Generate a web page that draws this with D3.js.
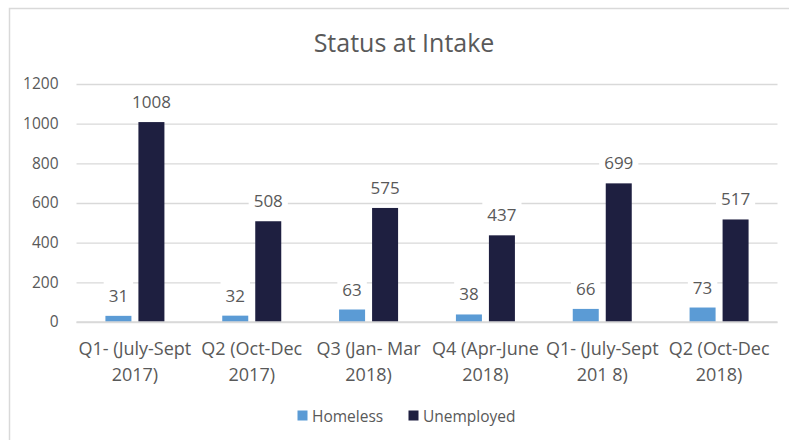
<!DOCTYPE html>
<html lang="en">
<head>
<meta charset="utf-8">
<title>Status at Intake</title>
<script src="https://d3js.org/d3.v7.min.js"></script>
<style>
  body { margin: 0; background: #fff; }
  text { font-family: "Open Sans", sans-serif; fill: #595959; }
</style>
</head>
<body>
<script>
// data
var quarters = [
  ["Q1- (July-Sept", "2017)"],
  ["Q2 (Oct-Dec", "2017)"],
  ["Q3 (Jan- Mar", "2018)"],
  ["Q4 (Apr-June", "2018)"],
  ["Q1- (July-Sept", "201 8)"],
  ["Q2 (Oct-Dec", "2018)"]
];
var seriesNames = ["Homeless", "Unemployed"];
var homeless = [31, 32, 63, 38, 66, 73];
var unemployed = [1008, 508, 575, 437, 699, 517];
var yTicks = [0, 200, 400, 600, 800, 1000, 1200];
var colors = ["#5B9BD5", "#1E1F40"];

var W = 789, H = 440;
var plot = {left: 76.5, right: 777.5, top: 84, bottom: 322};

var svg = d3.select("body").append("svg")
  .attr("width", W)
  .attr("height", H);

// chart border
svg.append("rect")
  .attr("x", 9.5).attr("y", 8.5)
  .attr("width", 800).attr("height", 450)
  .attr("fill", "none")
  .attr("stroke", "#d9d9d9")
  .attr("stroke-width", 1.5);

var idx = d3.range(quarters.length);

var x0 = d3.scaleBand()
  .domain(idx)
  .range([plot.left, plot.right])
  .padding(0);

var x1 = d3.scaleBand()
  .domain(seriesNames)
  .range([-29.5, 29.5])
  .paddingInner(0.212);

var y = d3.scaleLinear()
  .domain([0, 1200])
  .range([plot.bottom, plot.top]);

// title
svg.append("text")
  .attr("x", 404)
  .attr("y", 52)
  .attr("text-anchor", "middle")
  .style("font-size", "25px")
  .text("Status at Intake");

// gridlines + y labels
var yAxis = svg.append("g")
  .attr("transform", "translate(" + plot.left + ",0)")
  .call(d3.axisLeft(y).tickValues(yTicks).tickFormat(d3.format("d"))
    .tickSize(-(plot.right - plot.left)).tickPadding(18));
yAxis.select(".domain").remove();
yAxis.selectAll(".tick line").attr("stroke", "#d9d9d9").attr("stroke-width", 1.3);
yAxis.selectAll(".tick text")
  .attr("fill", "#595959")
  .style("font-family", "'Open Sans', sans-serif")
  .style("font-size", "15.5px");

// bars
var rows = idx.map(function(i) {
  return {i: i, vals: [homeless[i], unemployed[i]]};
});

var groups = svg.append("g").selectAll("g")
  .data(rows)
  .enter().append("g")
  .attr("transform", function(d) { return "translate(" + (x0(d.i) + x0.bandwidth() / 2) + ",0)"; });

groups.selectAll("rect")
  .data(function(d) { return d.vals.map(function(v, k) { return {k: k, v: v}; }); })
  .enter().append("rect")
  .attr("x", function(d) { return x1(seriesNames[d.k]); })
  .attr("width", x1.bandwidth())
  .attr("y", function(d) { return y(d.v); })
  .attr("height", function(d) { return y(0) - y(d.v); })
  .attr("fill", function(d) { return colors[d.k]; });

// data labels with white background
var labels = groups.selectAll("g.lbl")
  .data(function(d) { return d.vals.map(function(v, k) { return {k: k, v: v}; }); })
  .enter().append("g")
  .attr("class", "lbl")
  .attr("transform", function(d) {
    return "translate(" + (x1(seriesNames[d.k]) + x1.bandwidth() / 2) + "," + (y(d.v) - 14) + ")";
  });

labels.append("text")
  .attr("text-anchor", "middle")
  .style("font-size", "17px")
  .text(function(d) { return d.v; })
  .each(function() {
    var b = this.getBBox();
    d3.select(this.parentNode).insert("rect", "text")
      .attr("x", b.x - 5).attr("y", b.y - 2)
      .attr("width", b.width + 10).attr("height", b.height + 4)
      .attr("fill", "#fff");
  });

// x axis line
svg.append("line")
  .attr("x1", plot.left).attr("x2", plot.right)
  .attr("y1", y(0)).attr("y2", y(0))
  .attr("stroke", "#d9d9d9").attr("stroke-width", 1.3);

// category labels
var xl = svg.append("g").selectAll("text")
  .data(idx)
  .enter().append("text")
  .attr("x", function(i) { return x0(i) + x0.bandwidth() / 2; })
  .attr("y", 355)
  .attr("text-anchor", "middle")
  .style("font-size", "18px");
xl.append("tspan")
  .attr("x", function(i) { return x0(i) + x0.bandwidth() / 2; })
  .text(function(i) { return quarters[i][0]; });
xl.append("tspan")
  .attr("x", function(i) { return x0(i) + x0.bandwidth() / 2; })
  .attr("dy", 26)
  .text(function(i) { return quarters[i][1]; });

// legend
var legendX = [297.5, 408.5];
var legend = svg.append("g").selectAll("g")
  .data(seriesNames)
  .enter().append("g")
  .attr("transform", function(d, k) { return "translate(" + legendX[k] + ",410.5)"; });
legend.append("rect")
  .attr("width", 10).attr("height", 10)
  .attr("fill", function(d, k) { return colors[k]; });
legend.append("text")
  .attr("x", 14.5)
  .attr("y", 11)
  .style("font-size", "15.5px")
  .text(function(d) { return d; });
</script>
</body>
</html>
